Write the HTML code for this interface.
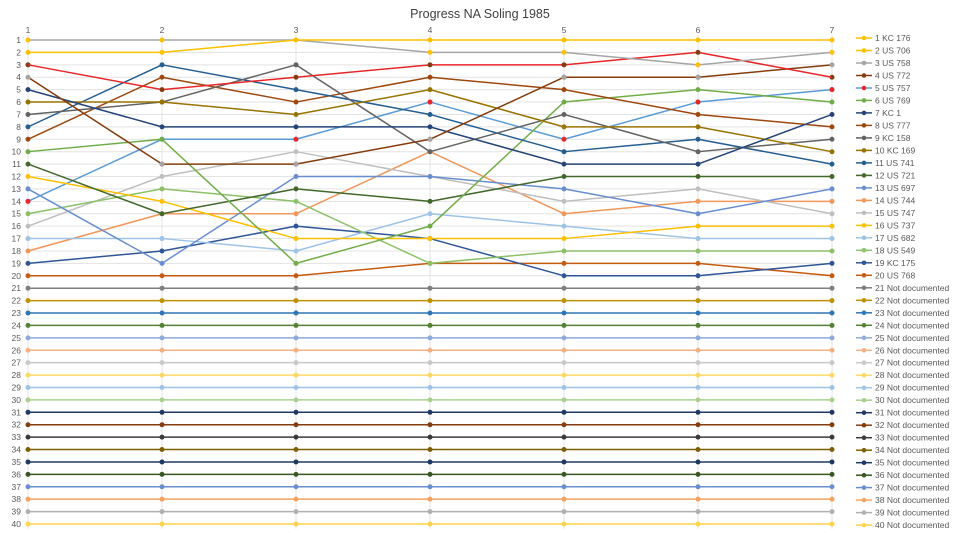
<!DOCTYPE html>
<html><head><meta charset="utf-8"><style>
html,body{margin:0;padding:0;background:#fff;}
svg{display:block;font-family:"Liberation Sans",sans-serif;}
.g path,.g line{vector-effect:non-scaling-stroke;}
.s{fill:none;stroke-width:1.5;vector-effect:non-scaling-stroke;stroke-linejoin:round;}
.d{fill:none;stroke-width:5;stroke-linecap:round;vector-effect:non-scaling-stroke;}
.lg text{font-size:8.5px;fill:#595959;}
.ax text{font-size:8.5px;fill:#595959;}
</style></head><body>
<svg width="960" height="533" viewBox="0 0 960 533">
<rect width="960" height="533" fill="#fff"/>
<text x="480" y="18" text-anchor="middle" font-size="12.5" fill="#404040">Progress NA Soling 1985</text>
<g transform="translate(-106,27.59) scale(134,12.41)">
<g class="g" stroke="#e3e3e3" stroke-width="1" fill="none">
<path vector-effect="non-scaling-stroke" d="M1 0.6V40.4M2 0.6V40.4M3 0.6V40.4M4 0.6V40.4M5 0.6V40.4M6 0.6V40.4M7 0.6V40.4"/>
<path vector-effect="non-scaling-stroke" d="M1 1H7M1 2H7M1 3H7M1 4H7M1 5H7M1 6H7M1 7H7M1 8H7M1 9H7M1 10H7M1 11H7M1 12H7M1 13H7M1 14H7M1 15H7M1 16H7M1 17H7M1 18H7M1 19H7M1 20H7M1 21H7M1 22H7M1 23H7M1 24H7M1 25H7M1 26H7M1 27H7M1 28H7M1 29H7M1 30H7M1 31H7M1 32H7M1 33H7M1 34H7M1 35H7M1 36H7M1 37H7M1 38H7M1 39H7M1 40H7"/>
</g>
<!-- flat lines 21-40 -->
<g>
<path class="s" stroke="#7f7f7f" d="M1 21H7"/><path class="d" stroke="#7f7f7f" d="M1 21h0M2 21h0M3 21h0M4 21h0M5 21h0M6 21h0M7 21h0"/>
<path class="s" stroke="#bf9000" d="M1 22H7"/><path class="d" stroke="#bf9000" d="M1 22h0M2 22h0M3 22h0M4 22h0M5 22h0M6 22h0M7 22h0"/>
<path class="s" stroke="#2e75b6" d="M1 23H7"/><path class="d" stroke="#2e75b6" d="M1 23h0M2 23h0M3 23h0M4 23h0M5 23h0M6 23h0M7 23h0"/>
<path class="s" stroke="#548235" d="M1 24H7"/><path class="d" stroke="#548235" d="M1 24h0M2 24h0M3 24h0M4 24h0M5 24h0M6 24h0M7 24h0"/>
<path class="s" stroke="#8faadc" d="M1 25H7"/><path class="d" stroke="#8faadc" d="M1 25h0M2 25h0M3 25h0M4 25h0M5 25h0M6 25h0M7 25h0"/>
<path class="s" stroke="#f4b183" d="M1 26H7"/><path class="d" stroke="#f4b183" d="M1 26h0M2 26h0M3 26h0M4 26h0M5 26h0M6 26h0M7 26h0"/>
<path class="s" stroke="#c9c9c9" d="M1 27H7"/><path class="d" stroke="#c9c9c9" d="M1 27h0M2 27h0M3 27h0M4 27h0M5 27h0M6 27h0M7 27h0"/>
<path class="s" stroke="#ffd966" d="M1 28H7"/><path class="d" stroke="#ffd966" d="M1 28h0M2 28h0M3 28h0M4 28h0M5 28h0M6 28h0M7 28h0"/>
<path class="s" stroke="#9dc3e6" d="M1 29H7"/><path class="d" stroke="#9dc3e6" d="M1 29h0M2 29h0M3 29h0M4 29h0M5 29h0M6 29h0M7 29h0"/>
<path class="s" stroke="#a9d18e" d="M1 30H7"/><path class="d" stroke="#a9d18e" d="M1 30h0M2 30h0M3 30h0M4 30h0M5 30h0M6 30h0M7 30h0"/>
<path class="s" stroke="#203864" d="M1 31H7"/><path class="d" stroke="#203864" d="M1 31h0M2 31h0M3 31h0M4 31h0M5 31h0M6 31h0M7 31h0"/>
<path class="s" stroke="#843c0c" d="M1 32H7"/><path class="d" stroke="#843c0c" d="M1 32h0M2 32h0M3 32h0M4 32h0M5 32h0M6 32h0M7 32h0"/>
<path class="s" stroke="#3a3a3a" d="M1 33H7"/><path class="d" stroke="#3a3a3a" d="M1 33h0M2 33h0M3 33h0M4 33h0M5 33h0M6 33h0M7 33h0"/>
<path class="s" stroke="#7f6000" d="M1 34H7"/><path class="d" stroke="#7f6000" d="M1 34h0M2 34h0M3 34h0M4 34h0M5 34h0M6 34h0M7 34h0"/>
<path class="s" stroke="#1f3864" d="M1 35H7"/><path class="d" stroke="#1f3864" d="M1 35h0M2 35h0M3 35h0M4 35h0M5 35h0M6 35h0M7 35h0"/>
<path class="s" stroke="#385723" d="M1 36H7"/><path class="d" stroke="#385723" d="M1 36h0M2 36h0M3 36h0M4 36h0M5 36h0M6 36h0M7 36h0"/>
<path class="s" stroke="#6a8fd0" d="M1 37H7"/><path class="d" stroke="#6a8fd0" d="M1 37h0M2 37h0M3 37h0M4 37h0M5 37h0M6 37h0M7 37h0"/>
<path class="s" stroke="#f4a460" d="M1 38H7"/><path class="d" stroke="#f4a460" d="M1 38h0M2 38h0M3 38h0M4 38h0M5 38h0M6 38h0M7 38h0"/>
<path class="s" stroke="#b0b0b0" d="M1 39H7"/><path class="d" stroke="#b0b0b0" d="M1 39h0M2 39h0M3 39h0M4 39h0M5 39h0M6 39h0M7 39h0"/>
<path class="s" stroke="#ffd34d" d="M1 40H7"/><path class="d" stroke="#ffd34d" d="M1 40h0M2 40h0M3 40h0M4 40h0M5 40h0M6 40h0M7 40h0"/>
</g>
<!-- series 1-20 -->
<g>
<path class="s" stroke="#c55a11" d="M1 20L2 20L3 20L4 19L5 19L6 19L7 20"/><path class="d" stroke="#c55a11" d="M1 20h0M2 20h0M3 20h0M4 19h0M5 19h0M6 19h0M7 20h0"/>
<path class="s" stroke="#2f5597" d="M1 19L2 18L3 16L4 17L5 20L6 20L7 19"/><path class="d" stroke="#2f5597" d="M1 19h0M2 18h0M3 16h0M4 17h0M5 20h0M6 20h0M7 19h0"/>
<path class="s" stroke="#f1975a" d="M1 18L2 15L3 15L4 10L5 15L6 14L7 14"/><path class="d" stroke="#f1975a" d="M1 18h0M2 15h0M3 15h0M4 10h0M5 15h0M6 14h0M7 14h0"/>
<path class="s" stroke="#9dc3e6" d="M1 17L2 17L3 18L4 15L5 16L6 17L7 17"/><path class="d" stroke="#9dc3e6" d="M1 17h0M2 17h0M3 18h0M4 15h0M5 16h0M6 17h0M7 17h0"/>
<path class="s" stroke="#bfbfbf" d="M1 16L2 12L3 10L4 12L5 14L6 13L7 15"/><path class="d" stroke="#bfbfbf" d="M1 16h0M2 12h0M3 10h0M4 12h0M5 14h0M6 13h0M7 15h0"/>
<path class="s" stroke="#8cc168" d="M1 15L2 13L3 14L4 19L5 18L6 18L7 18"/><path class="d" stroke="#8cc168" d="M1 15h0M2 13h0M3 14h0M4 19h0M5 18h0M6 18h0M7 18h0"/>
<path class="s" stroke="#5b9bd5" d="M1 14L2 9L3 9L4 6L5 9L6 6L7 5"/><path class="d" stroke="#5b9bd5" d="M1 14h0M2 9h0M3 9h0M4 6h0M5 9h0M6 6h0M7 5h0"/>
<path class="s" stroke="#698ed0" d="M1 13L2 19L3 12L4 12L5 13L6 15L7 13"/><path class="d" stroke="#698ed0" d="M1 13h0M2 19h0M3 12h0M4 12h0M5 13h0M6 15h0M7 13h0"/>
<path class="s" stroke="#ffc000" d="M1 12L2 14L3 17L4 17L5 17L6 16L7 16"/><path class="d" stroke="#ffc000" d="M1 12h0M2 14h0M3 17h0M4 17h0M5 17h0M6 16h0M7 16h0"/>
<path class="s" stroke="#43682b" d="M1 11L2 15L3 13L4 14L5 12L6 12L7 12"/><path class="d" stroke="#43682b" d="M1 11h0M2 15h0M3 13h0M4 14h0M5 12h0M6 12h0M7 12h0"/>
<path class="s" stroke="#70ad47" d="M1 10L2 9L3 19L4 16L5 6L6 5L7 6"/><path class="d" stroke="#70ad47" d="M1 10h0M2 9h0M3 19h0M4 16h0M5 6h0M6 5h0M7 6h0"/>
<path class="s" stroke="#9e480e" d="M1 9L2 4L3 6L4 4L5 5L6 7L7 8"/><path class="d" stroke="#9e480e" d="M1 9h0M2 4h0M3 6h0M4 4h0M5 5h0M6 7h0M7 8h0"/>
<path class="s" stroke="#255e91" d="M1 8L2 3L3 5L4 7L5 10L6 9L7 11"/><path class="d" stroke="#255e91" d="M1 8h0M2 3h0M3 5h0M4 7h0M5 10h0M6 9h0M7 11h0"/>
<path class="s" stroke="#636363" d="M1 7L2 6L3 3L4 10L5 7L6 10L7 9"/><path class="d" stroke="#636363" d="M1 7h0M2 6h0M3 3h0M4 10h0M5 7h0M6 10h0M7 9h0"/>
<path class="s" stroke="#997300" d="M1 6L2 6L3 7L4 5L5 8L6 8L7 10"/><path class="d" stroke="#997300" d="M1 6h0M2 6h0M3 7h0M4 5h0M5 8h0M6 8h0M7 10h0"/>
<path class="s" stroke="#264478" d="M1 5L2 8L3 8L4 8L5 11L6 11L7 7"/><path class="d" stroke="#264478" d="M1 5h0M2 8h0M3 8h0M4 8h0M5 11h0M6 11h0M7 7h0"/>
<path class="s" stroke="#843c0c" d="M1 4L2 11L3 11L4 9L5 4L6 4L7 3"/><path class="d" stroke="#843c0c" d="M1 3h0M2 11h0M3 11h0M4 9h0M5 4h0M6 4h0M7 4h0"/>
<path class="s" stroke="#e8262a" d="M1 3L2 5L3 4L4 3L5 3L6 2L7 4"/><path class="d" stroke="#843c0c" d="M2 5h0M3 4h0M4 3h0M5 3h0M6 2h0"/><path class="d" stroke="#e8262a" d="M1 14h0M3 9h0M4 6h0M5 9h0M6 6h0M7 5h0"/>
<path class="s" stroke="#a5a5a5" d="M1 1L2 1L3 1L4 2L5 2L6 3L7 2"/><path class="d" stroke="#a5a5a5" d="M1 4h0M2 11h0M3 11h0M4 9h0M5 4h0M6 4h0M7 3h0"/>
<path class="s" stroke="#ffc000" d="M1 2L2 2L3 1L4 1L5 1L6 1L7 1"/><path class="d" stroke="#ffc000" d="M1 1h0M1 2h0M2 1h0M2 2h0M3 1h0M4 1h0M4 2h0M5 1h0M5 2h0M6 1h0M6 3h0M7 1h0M7 2h0"/>
</g>
</g>
<g class="ax" text-anchor="middle">
<text x="28" y="33">1</text><text x="162" y="33">2</text><text x="296" y="33">3</text><text x="430" y="33">4</text><text x="564" y="33">5</text><text x="698" y="33">6</text><text x="832" y="33">7</text>
</g>
<g class="ax" text-anchor="end">
<text x="21" y="43">1</text><text x="21" y="55.4">2</text><text x="21" y="67.8">3</text><text x="21" y="80.2">4</text><text x="21" y="92.6">5</text><text x="21" y="105">6</text><text x="21" y="117.5">7</text><text x="21" y="129.9">8</text><text x="21" y="142.3">9</text><text x="21" y="154.7">10</text><text x="21" y="167.1">11</text><text x="21" y="179.5">12</text><text x="21" y="191.9">13</text><text x="21" y="204.3">14</text><text x="21" y="216.7">15</text><text x="21" y="229.2">16</text><text x="21" y="241.6">17</text><text x="21" y="254">18</text><text x="21" y="266.4">19</text><text x="21" y="278.8">20</text><text x="21" y="291.2">21</text><text x="21" y="303.6">22</text><text x="21" y="316">23</text><text x="21" y="328.4">24</text><text x="21" y="340.8">25</text><text x="21" y="353.3">26</text><text x="21" y="365.7">27</text><text x="21" y="378.1">28</text><text x="21" y="390.5">29</text><text x="21" y="402.9">30</text><text x="21" y="415.3">31</text><text x="21" y="427.7">32</text><text x="21" y="440.1">33</text><text x="21" y="452.5">34</text><text x="21" y="464.9">35</text><text x="21" y="477.4">36</text><text x="21" y="489.8">37</text><text x="21" y="502.2">38</text><text x="21" y="514.6">39</text><text x="21" y="527">40</text>
</g>
<g class="lg">
<g stroke-width="1.5">
<path stroke="#ffc000" d="M856 38h16"/><path stroke="#ffc000" d="M856 50.5h16"/><path stroke="#a5a5a5" d="M856 63h16"/><path stroke="#843c0c" d="M856 75.5h16"/><path stroke="#5b9bd5" d="M856 88h16"/><path stroke="#70ad47" d="M856 100.4h16"/><path stroke="#264478" d="M856 112.9h16"/><path stroke="#9e480e" d="M856 125.4h16"/><path stroke="#636363" d="M856 137.9h16"/><path stroke="#997300" d="M856 150.4h16"/><path stroke="#255e91" d="M856 162.9h16"/><path stroke="#43682b" d="M856 175.4h16"/><path stroke="#698ed0" d="M856 187.9h16"/><path stroke="#f1975a" d="M856 200.4h16"/><path stroke="#bfbfbf" d="M856 212.9h16"/><path stroke="#ffc000" d="M856 225.4h16"/><path stroke="#9dc3e6" d="M856 237.8h16"/><path stroke="#8cc168" d="M856 250.3h16"/><path stroke="#2f5597" d="M856 262.8h16"/><path stroke="#c55a11" d="M856 275.3h16"/>
<path stroke="#7f7f7f" d="M856 287.8h16"/><path stroke="#bf9000" d="M856 300.3h16"/><path stroke="#2e75b6" d="M856 312.8h16"/><path stroke="#548235" d="M856 325.3h16"/><path stroke="#8faadc" d="M856 337.8h16"/><path stroke="#f4b183" d="M856 350.3h16"/><path stroke="#c9c9c9" d="M856 362.7h16"/><path stroke="#ffd966" d="M856 375.2h16"/><path stroke="#9dc3e6" d="M856 387.7h16"/><path stroke="#a9d18e" d="M856 400.2h16"/><path stroke="#203864" d="M856 412.7h16"/><path stroke="#843c0c" d="M856 425.2h16"/><path stroke="#3a3a3a" d="M856 437.7h16"/><path stroke="#7f6000" d="M856 450.2h16"/><path stroke="#1f3864" d="M856 462.7h16"/><path stroke="#385723" d="M856 475.2h16"/><path stroke="#6a8fd0" d="M856 487.6h16"/><path stroke="#f4a460" d="M856 500.1h16"/><path stroke="#b0b0b0" d="M856 512.6h16"/><path stroke="#ffd34d" d="M856 525.1h16"/>
</g>
<g>
<circle cx="864" cy="38" r="2.3" fill="#ffc000"/><circle cx="864" cy="50.5" r="2.3" fill="#ffc000"/><circle cx="864" cy="63" r="2.3" fill="#a5a5a5"/><circle cx="864" cy="75.5" r="2.3" fill="#843c0c"/><circle cx="864" cy="88" r="2.3" fill="#e8262a"/><circle cx="864" cy="100.4" r="2.3" fill="#70ad47"/><circle cx="864" cy="112.9" r="2.3" fill="#264478"/><circle cx="864" cy="125.4" r="2.3" fill="#9e480e"/><circle cx="864" cy="137.9" r="2.3" fill="#636363"/><circle cx="864" cy="150.4" r="2.3" fill="#997300"/><circle cx="864" cy="162.9" r="2.3" fill="#255e91"/><circle cx="864" cy="175.4" r="2.3" fill="#43682b"/><circle cx="864" cy="187.9" r="2.3" fill="#698ed0"/><circle cx="864" cy="200.4" r="2.3" fill="#f1975a"/><circle cx="864" cy="212.9" r="2.3" fill="#bfbfbf"/><circle cx="864" cy="225.4" r="2.3" fill="#ffc000"/><circle cx="864" cy="237.8" r="2.3" fill="#9dc3e6"/><circle cx="864" cy="250.3" r="2.3" fill="#8cc168"/><circle cx="864" cy="262.8" r="2.3" fill="#2f5597"/><circle cx="864" cy="275.3" r="2.3" fill="#c55a11"/>
<circle cx="864" cy="287.8" r="2.3" fill="#7f7f7f"/><circle cx="864" cy="300.3" r="2.3" fill="#bf9000"/><circle cx="864" cy="312.8" r="2.3" fill="#2e75b6"/><circle cx="864" cy="325.3" r="2.3" fill="#548235"/><circle cx="864" cy="337.8" r="2.3" fill="#8faadc"/><circle cx="864" cy="350.3" r="2.3" fill="#f4b183"/><circle cx="864" cy="362.7" r="2.3" fill="#c9c9c9"/><circle cx="864" cy="375.2" r="2.3" fill="#ffd966"/><circle cx="864" cy="387.7" r="2.3" fill="#9dc3e6"/><circle cx="864" cy="400.2" r="2.3" fill="#a9d18e"/><circle cx="864" cy="412.7" r="2.3" fill="#203864"/><circle cx="864" cy="425.2" r="2.3" fill="#843c0c"/><circle cx="864" cy="437.7" r="2.3" fill="#3a3a3a"/><circle cx="864" cy="450.2" r="2.3" fill="#7f6000"/><circle cx="864" cy="462.7" r="2.3" fill="#1f3864"/><circle cx="864" cy="475.2" r="2.3" fill="#385723"/><circle cx="864" cy="487.6" r="2.3" fill="#6a8fd0"/><circle cx="864" cy="500.1" r="2.3" fill="#f4a460"/><circle cx="864" cy="512.6" r="2.3" fill="#b0b0b0"/><circle cx="864" cy="525.1" r="2.3" fill="#ffd34d"/>
</g>
<text x="875" y="41">1 KC 176</text><text x="875" y="53.5">2 US 706</text><text x="875" y="66">3 US 758</text><text x="875" y="78.5">4 US 772</text><text x="875" y="91">5 US 757</text><text x="875" y="103.4">6 US 769</text><text x="875" y="115.9">7 KC 1</text><text x="875" y="128.4">8 US 777</text><text x="875" y="140.9">9 KC 158</text><text x="875" y="153.4">10 KC 169</text><text x="875" y="165.9">11 US 741</text><text x="875" y="178.4">12 US 721</text><text x="875" y="190.9">13 US 697</text><text x="875" y="203.4">14 US 744</text><text x="875" y="215.9">15 US 747</text><text x="875" y="228.4">16 US 737</text><text x="875" y="240.8">17 US 682</text><text x="875" y="253.3">18 US 549</text><text x="875" y="265.8">19 KC 175</text><text x="875" y="278.3">20 US 768</text>
<text x="875" y="290.8">21 Not documented</text><text x="875" y="303.3">22 Not documented</text><text x="875" y="315.8">23 Not documented</text><text x="875" y="328.3">24 Not documented</text><text x="875" y="340.8">25 Not documented</text><text x="875" y="353.3">26 Not documented</text><text x="875" y="365.7">27 Not documented</text><text x="875" y="378.2">28 Not documented</text><text x="875" y="390.7">29 Not documented</text><text x="875" y="403.2">30 Not documented</text><text x="875" y="415.7">31 Not documented</text><text x="875" y="428.2">32 Not documented</text><text x="875" y="440.7">33 Not documented</text><text x="875" y="453.2">34 Not documented</text><text x="875" y="465.7">35 Not documented</text><text x="875" y="478.2">36 Not documented</text><text x="875" y="490.6">37 Not documented</text><text x="875" y="503.1">38 Not documented</text><text x="875" y="515.6">39 Not documented</text><text x="875" y="528.1">40 Not documented</text>
</g>
</svg>
</body></html>
